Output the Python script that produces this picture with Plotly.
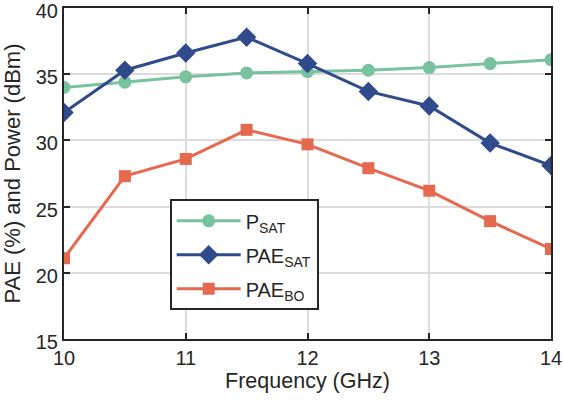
import plotly.graph_objects as go

freq = [10, 10.5, 11, 11.5, 12, 12.5, 13, 13.5, 14]
p_sat = [34.0, 34.4, 34.8, 35.1, 35.2, 35.3, 35.5, 35.8, 36.1]
pae_sat = [32.1, 35.3, 36.6, 37.8, 35.8, 33.7, 32.6, 29.8, 28.1]
pae_bo = [21.1, 27.3, 28.6, 30.8, 29.7, 27.9, 26.2, 23.9, 21.8]

x_ticks = [10, 11, 12, 13, 14]
y_ticks = [15, 20, 25, 30, 35, 40]

green = "#78C2A0"
blue = "#2F4B8C"
red = "#E5694F"
ink = "#262626"

fig = go.Figure()
fig.add_trace(go.Scatter(x=freq, y=p_sat, mode="lines+markers", name="P<sub>SAT</sub>",
                         legendgroup="a",
                         line=dict(color=green, width=3),
                         marker=dict(symbol="circle", size=13, color=green)))
fig.add_trace(go.Scatter(x=freq, y=pae_sat, mode="lines+markers", name="PAE<sub>SAT</sub>",
                         legendgroup="b",
                         line=dict(color=blue, width=3),
                         marker=dict(symbol="diamond", size=15, color=blue)))
fig.add_trace(go.Scatter(x=freq, y=pae_bo, mode="lines+markers", name="PAE<sub>BO</sub>",
                         legendgroup="c",
                         line=dict(color=red, width=3),
                         marker=dict(symbol="square", size=12, color=red)))

axis_common = dict(
    showline=True, linecolor=ink, linewidth=2, mirror="ticks",
    ticks="inside", ticklen=6, tickwidth=2, tickcolor=ink,
    showgrid=True, gridcolor="#DCDCDC", gridwidth=1.5,
    zeroline=False, automargin=False, ticklabeloverflow="allow",
    tickfont=dict(size=20, color=ink),
)

fig.update_layout(
    width=563, height=403,
    margin=dict(l=64, r=12, t=8, b=64),
    paper_bgcolor="white", plot_bgcolor="white",
    font=dict(family="Liberation Sans, Arial, sans-serif", size=20, color=ink),
    xaxis=dict(range=[10, 14], tickvals=x_ticks,
               title=dict(text="Frequency (GHz)", font=dict(size=21.5, color=ink), standoff=4),
               **axis_common),
    yaxis=dict(range=[15, 40], tickvals=y_ticks, ticklabelshift=3,
               title=dict(text="PAE (%) and Power (dBm)", font=dict(size=22, color=ink), standoff=10),
               **axis_common),
    legend=dict(x=0.217, y=0.422, xanchor="left", yanchor="top",
                bgcolor="white", bordercolor=ink, borderwidth=2,
                font=dict(size=20, color=ink), itemwidth=64,
                traceorder="grouped", tracegroupgap=5),
    showlegend=True,
)

fig.write_html("out.html", config={"displayModeBar": False},
               post_script="document.body.style.margin='0';document.body.style.overflow='hidden';")
